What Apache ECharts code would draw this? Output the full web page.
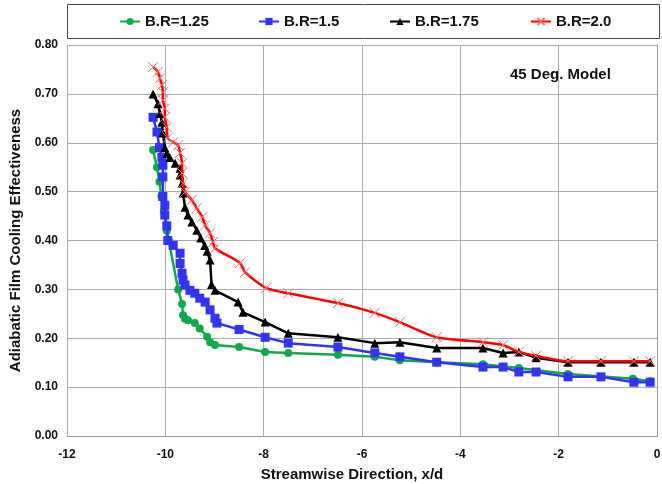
<!DOCTYPE html>
<html><head><meta charset="utf-8">
<script src="https://cdn.jsdelivr.net/npm/echarts@6/dist/echarts.min.js"></script>
<style>html,body{margin:0;padding:0;background:#fff}#c{width:662px;height:484px}</style>
</head><body><div id="c"></div>
<script>
const seriesNames = ['B.R=1.25','B.R=1.5','B.R=1.75','B.R=2.0'];
const xTicks = [-12,-10,-8,-6,-4,-2,0];
const xTitle = 'Streamwise Direction, x/d';
const yTitle = 'Adiabatic Film Cooling Effectiveness';

const g_x = [-10.25,-10.17,-10.12,-10.08,-10.03,-9.97,-9.93,-9.74,-9.66,-9.64,-9.6,-9.54,-9.4,-9.3,-9.15,-9.09,-8.99,-8.5,-7.97,-7.5,-6.49,-5.74,-5.23,-4.48,-3.54,-2.81,-1.81,-0.49,-0.14];
const g_y = [0.585,0.55,0.52,0.49,0.46,0.42,0.40,0.30,0.27,0.247,0.24,0.237,0.231,0.22,0.203,0.192,0.186,0.182,0.172,0.17,0.166,0.162,0.155,0.151,0.147,0.139,0.127,0.117,0.112];

const b_x = [-10.25,-10.17,-10.12,-10.07,-10.05,-10.05,-10.05,-10.01,-10.01,-9.97,-9.95,-9.84,-9.70,-9.70,-9.66,-9.64,-9.60,-9.50,-9.40,-9.30,-9.19,-9.09,-8.99,-8.95,-8.5,-7.97,-7.5,-6.49,-5.74,-5.23,-4.48,-3.54,-3.13,-2.81,-2.46,-1.81,-1.14,-0.47,-0.14];
const b_y = [0.652,0.622,0.59,0.57,0.554,0.53,0.49,0.472,0.452,0.43,0.40,0.39,0.374,0.353,0.333,0.319,0.309,0.298,0.292,0.282,0.274,0.258,0.241,0.231,0.218,0.202,0.19,0.182,0.17,0.162,0.151,0.141,0.141,0.131,0.131,0.121,0.121,0.11,0.11];

const k_x = [-10.25,-10.15,-10.11,-10.07,-10.05,-10.01,-9.97,-9.91,-9.80,-9.70,-9.70,-9.66,-9.64,-9.60,-9.54,-9.46,-9.36,-9.28,-9.20,-9.15,-9.09,-9.06,-8.99,-8.52,-8.42,-7.97,-7.5,-6.49,-5.74,-5.23,-4.48,-3.54,-3.13,-2.81,-2.46,-1.81,-1.14,-0.47,-0.14];
const k_y = [0.70,0.68,0.66,0.642,0.62,0.59,0.578,0.57,0.558,0.548,0.534,0.517,0.497,0.468,0.452,0.438,0.421,0.405,0.39,0.378,0.36,0.31,0.298,0.274,0.253,0.233,0.21,0.202,0.19,0.192,0.18,0.18,0.17,0.172,0.16,0.151,0.151,0.151,0.151];

const r_x = [-10.25,-10.15,-10.11,-10.07,-10.05,-10.05,-10.01,-10.01,-9.97,-9.95,-9.84,-9.74,-9.70,-9.66,-9.66,-9.64,-9.60,-9.46,-9.36,-9.25,-9.19,-9.09,-9.03,-8.99,-8.48,-8.38,-7.95,-7.5,-6.49,-5.74,-5.23,-4.48,-3.54,-3.13,-2.81,-2.46,-1.81,-1.14,-0.47,-0.14];
const r_y = [0.755,0.745,0.732,0.718,0.703,0.687,0.67,0.652,0.632,0.61,0.601,0.595,0.579,0.558,0.538,0.517,0.499,0.483,0.466,0.448,0.431,0.415,0.397,0.384,0.354,0.335,0.303,0.292,0.272,0.252,0.233,0.202,0.192,0.186,0.172,0.164,0.153,0.153,0.153,0.153];

const zip = (xs, ys) => xs.map((v, i) => [v, ys[i]]);
const F = 'Liberation Sans, Arial, sans-serif';
const chart = echarts.init(document.getElementById('c'), null, {renderer: 'canvas'});

const legendLefts = [119, 258, 389, 530];
const legends = seriesNames.map((n, i) => ({
  data: [n], left: legendLefts[i], top: 14, itemWidth: 20, itemHeight: 9, padding: 0,
  textStyle: {fontFamily: F, fontWeight: 'bold', fontSize: 15, color: '#111'}
}));

chart.setOption({
  animation: false,
  backgroundColor: '#fff',
  legend: legends,
  graphic: [
    {type: 'rect', shape: {x: 67.5, y: 4.5, width: 592, height: 34}, style: {fill: 'none', stroke: '#444', lineWidth: 1}, z: 100},
    {type: 'text', left: 510, top: 67, style: {text: '45 Deg. Model', font: 'bold 15px ' + F, fill: '#111'}},
    {type: 'text', x: 352, y: 475, style: {text: xTitle, font: 'bold 15px ' + F, fill: '#111', align: 'center', verticalAlign: 'middle'}}
  ],
  grid: {left: 67, right: 5, top: 45, bottom: 48, outerBoundsMode: 'none', containLabel: false},
  xAxis: {
    type: 'value', min: -12, max: 0, interval: 2,
    axisLine: {show: true, lineStyle: {color: '#999', width: 1}},
    axisTick: {show: false},
    axisLabel: {fontFamily: F, fontWeight: 'bold', fontSize: 12, color: '#111', margin: 13,
      formatter: v => xTicks.includes(v) ? String(v) : ''},
    splitLine: {show: true, lineStyle: {color: '#aaa', width: 1}}
  },
  yAxis: {
    type: 'value', min: 0, max: 0.8, interval: 0.1,
    name: yTitle, nameLocation: 'middle', nameGap: 38,
    nameTextStyle: {fontFamily: F, fontWeight: 'bold', fontSize: 15, color: '#111'},
    axisLine: {show: true, lineStyle: {color: '#999', width: 1}},
    axisTick: {show: false},
    axisLabel: {fontFamily: F, fontWeight: 'bold', fontSize: 12, color: '#111', margin: 9,
      formatter: v => v.toFixed(2)},
    splitLine: {show: true, lineStyle: {color: '#aaa', width: 1}}
  },
  series: [
    {name: seriesNames[0], type: 'line', data: zip(g_x, g_y), symbol: 'circle', symbolSize: 8,
      itemStyle: {color: '#10a84a'}, lineStyle: {color: '#10a84a', width: 2.5}, z: 2},
    {name: seriesNames[1], type: 'line', data: zip(b_x, b_y), symbol: 'rect', symbolSize: 9,
      itemStyle: {color: '#3333f5'}, lineStyle: {color: '#3333f5', width: 2.5}, z: 3},
    {name: seriesNames[2], type: 'line', data: zip(k_x, k_y), symbol: 'triangle', symbolSize: 9,
      itemStyle: {color: '#000'}, lineStyle: {color: '#000', width: 2.5}, z: 4},
    {name: seriesNames[3], type: 'line', data: zip(r_x, r_y), smooth: 0.25,
      symbol: 'path://M0,0L10,10M0,10L10,0', symbolSize: 10,
      itemStyle: {color: 'rgba(0,0,0,0)', borderColor: '#f07070', borderWidth: 1},
      lineStyle: {color: '#ff0000', width: 2.5}, z: 5}
  ]
});
</script></body></html>
